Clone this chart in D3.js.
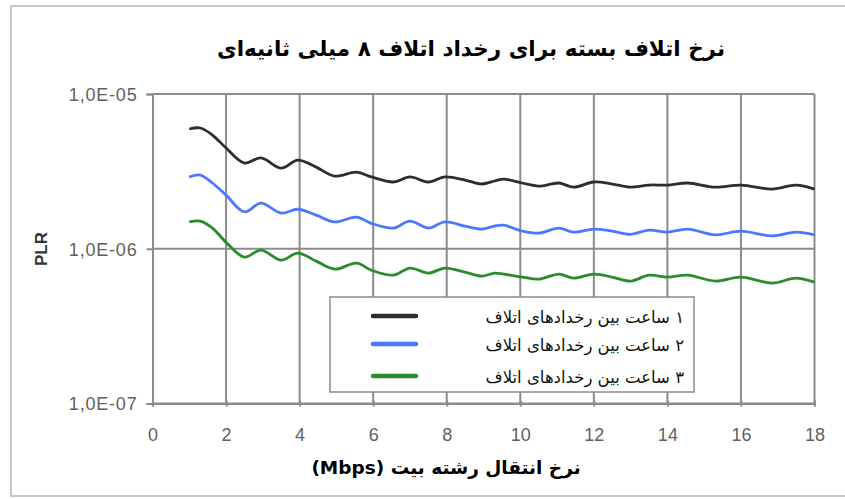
<!DOCTYPE html>
<html>
<head>
<meta charset="utf-8">
<script src="https://cdnjs.cloudflare.com/ajax/libs/d3/7.8.5/d3.min.js"></script>
<style>
  html, body { margin: 0; padding: 0; background: #fff; }
  svg { display: block; }
</style>
</head>
<body>
<script>
// Bit rate (Mbps) at which the packet loss ratio was sampled
const rates = [1.0, 1.3, 1.63, 2.0, 2.5, 2.95, 3.5, 3.95, 4.45, 4.95, 5.55, 5.95, 6.55, 7.0, 7.5, 7.95,
  8.5, 8.95, 9.3, 9.55, 10.05, 10.5, 11.05, 11.45, 12.0, 12.5, 13.0, 13.5, 14.0, 14.55, 15.3, 16.0, 16.85, 17.5, 18.0];

// PLR for 1, 2 and 3 hours between loss events
const plr1h = [5.94e-6, 6.03e-6, 5.43e-6, 4.48e-6, 3.58e-6, 3.86e-6, 3.32e-6, 3.74e-6, 3.37e-6, 2.95e-6, 3.13e-6, 2.91e-6,
  2.70e-6, 2.91e-6, 2.70e-6, 2.91e-6, 2.78e-6, 2.62e-6, 2.74e-6, 2.82e-6, 2.66e-6, 2.54e-6, 2.66e-6, 2.50e-6,
  2.70e-6, 2.62e-6, 2.50e-6, 2.58e-6, 2.58e-6, 2.66e-6, 2.50e-6, 2.58e-6, 2.43e-6, 2.58e-6, 2.43e-6];
const plr2h = [2.91e-6, 2.99e-6, 2.66e-6, 2.22e-6, 1.73e-6, 1.97e-6, 1.70e-6, 1.80e-6, 1.65e-6, 1.49e-6, 1.60e-6, 1.46e-6,
  1.36e-6, 1.51e-6, 1.36e-6, 1.49e-6, 1.40e-6, 1.34e-6, 1.40e-6, 1.42e-6, 1.30e-6, 1.26e-6, 1.36e-6, 1.28e-6,
  1.34e-6, 1.30e-6, 1.24e-6, 1.32e-6, 1.28e-6, 1.34e-6, 1.23e-6, 1.30e-6, 1.21e-6, 1.28e-6, 1.23e-6];
const plr3h = [1.49e-6, 1.51e-6, 1.36e-6, 1.10e-6, 8.83e-7, 9.80e-7, 8.44e-7, 9.37e-7, 8.32e-7, 7.38e-7, 8.07e-7, 7.27e-7,
  6.75e-7, 7.50e-7, 6.96e-7, 7.50e-7, 7.06e-7, 6.65e-7, 6.96e-7, 6.86e-7, 6.56e-7, 6.36e-7, 6.86e-7, 6.46e-7,
  6.86e-7, 6.56e-7, 6.18e-7, 6.75e-7, 6.56e-7, 6.75e-7, 6.18e-7, 6.56e-7, 6.00e-7, 6.46e-7, 6.09e-7];

const seriesNames = ["۱ ساعت بین رخدادهای اتلاف", "۲ ساعت بین رخدادهای اتلاف", "۳ ساعت بین رخدادهای اتلاف"];
const seriesColors = ["#2d2d2d", "#4a78ff", "#2a8c2a"];
const xTicks = [0, 2, 4, 6, 8, 10, 12, 14, 16, 18];
const yTicks = [1e-5, 1e-6, 1e-7];
const yTickLabels = ["1,0E-05", "1,0E-06", "1,0E-07"];

const titleText = "نرخ اتلاف بسته برای رخداد اتلاف ۸ میلی ثانیه‌ای";
const xTitle = "نرخ انتقال رشته بیت (Mbps)";
const yTitle = "PLR";

const W = 845, H = 499;
const plot = { left: 152.5, right: 814.5, top: 94, bottom: 403.5 };

const svg = d3.select("body").append("svg").attr("width", W).attr("height", H);

// outer chart frame
svg.append("rect")
  .attr("x", 11).attr("y", 6).attr("width", 900).attr("height", 490)
  .attr("fill", "#fff").attr("stroke", "#c8c8c8").attr("stroke-width", 2);

const x = d3.scaleLinear().domain([0, 18]).range([plot.left, plot.right]);
const y = d3.scaleLog().domain([1e-7, 1e-5]).range([plot.bottom, plot.top]);

const gridColor = "#8c8c8c";
const tickFont = "'Liberation Sans', Arial, sans-serif";

// vertical gridlines
svg.append("g").selectAll("line").data(xTicks.filter(d => d > 0)).join("line")
  .attr("x1", d => x(d)).attr("x2", d => x(d))
  .attr("y1", plot.top).attr("y2", plot.bottom)
  .attr("stroke", gridColor).attr("stroke-width", 2);

// horizontal gridlines
svg.append("g").selectAll("line").data(yTicks).join("line")
  .attr("x1", plot.left).attr("x2", plot.right)
  .attr("y1", d => y(d)).attr("y2", d => y(d))
  .attr("stroke", gridColor).attr("stroke-width", 2);

// y axis
const yAxis = d3.axisLeft(y).tickValues(yTicks).tickSize(6)
  .tickFormat((d, i) => yTickLabels[i]);
const gy = svg.append("g").attr("transform", `translate(${plot.left},0)`).call(yAxis);
gy.select(".domain").attr("stroke", gridColor).attr("stroke-width", 2);
gy.selectAll(".tick line").attr("stroke", gridColor).attr("stroke-width", 2);
gy.selectAll(".tick text")
  .attr("x", -15).attr("dy", "0.36em")
  .attr("fill", "#5f5f5f")
  .style("font-family", tickFont)
  .style("font-size", "18px")
  .style("letter-spacing", "0.8px");

// x axis
const xAxis = d3.axisBottom(x).tickValues(xTicks).tickSize(3).tickFormat(d3.format("d"));
const gx = svg.append("g").attr("transform", `translate(0,${plot.bottom})`).call(xAxis);
gx.select(".domain").attr("stroke", gridColor).attr("stroke-width", 2);
gx.selectAll(".tick line").attr("y1", -3).attr("stroke", gridColor).attr("stroke-width", 2);
gx.selectAll(".tick text")
  .attr("y", 25)
  .attr("fill", "#5f5f5f")
  .style("font-family", tickFont)
  .style("font-size", "18px");

// series lines
const line = d3.line()
  .x(d => x(d[0]))
  .y(d => y(d[1]))
  .curve(d3.curveCatmullRom.alpha(0.5));

[plr1h, plr2h, plr3h].forEach((vals, i) => {
  svg.append("path")
    .datum(rates.map((r, k) => [r, vals[k]]))
    .attr("fill", "none")
    .attr("stroke", seriesColors[i])
    .attr("stroke-width", 2.8)
    .attr("stroke-linejoin", "round")
    .attr("d", line);
});

// legend
const legend = svg.append("g");
legend.append("rect")
  .attr("x", 330).attr("y", 297).attr("width", 364).attr("height", 95)
  .attr("fill", "#fff").attr("stroke", "#8c8c8c").attr("stroke-width", 1.5);
const legendRows = [316, 344, 376];
seriesNames.forEach((name, i) => {
  legend.append("line")
    .attr("x1", 373).attr("x2", 416)
    .attr("y1", legendRows[i]).attr("y2", legendRows[i])
    .attr("stroke", seriesColors[i]).attr("stroke-width", 4.5)
    .attr("stroke-linecap", "round");
  legend.append("text")
    .attr("x", 684).attr("y", legendRows[i] + 7)
    .attr("direction", "rtl")
    .attr("text-anchor", "start")
    .attr("fill", "#111")
    .style("font-family", "'DejaVu Sans', sans-serif")
    .style("font-size", "16.5px")
    .text(name);
});

// chart title
svg.append("text")
  .attr("x", 471).attr("y", 56)
  .attr("direction", "rtl")
  .attr("text-anchor", "middle")
  .attr("fill", "#000")
  .style("font-family", "'DejaVu Sans', sans-serif")
  .style("font-weight", "bold")
  .style("font-size", "21.5px")
  .text(titleText);

// x axis title
svg.append("text")
  .attr("x", 446).attr("y", 474)
  .attr("direction", "rtl")
  .attr("text-anchor", "middle")
  .attr("fill", "#000")
  .style("font-family", "'DejaVu Sans', sans-serif")
  .style("font-weight", "bold")
  .style("font-size", "18.5px")
  .text(xTitle);

// y axis title
svg.append("text")
  .attr("transform", `translate(47,249) rotate(-90)`)
  .attr("text-anchor", "middle")
  .attr("fill", "#333")
  .style("font-family", tickFont)
  .style("font-weight", "bold")
  .style("font-size", "17px")
  .text(yTitle);
</script>
</body>
</html>
